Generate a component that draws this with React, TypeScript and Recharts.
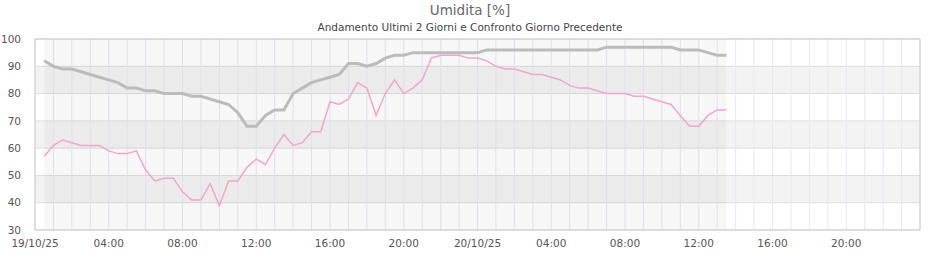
import React from "react";
import {
  LineChart,
  Line,
  XAxis,
  YAxis,
  CartesianGrid,
  ReferenceArea,
  ReferenceLine,
} from "recharts";

const TITLE = "Umidita [%]";
const SUBTITLE = "Andamento Ultimi 2 Giorni e Confronto Giorno Precedente";
const dayLabels = ["19/10/25", "20/10/25"];
const yTicks = [30, 40, 50, 60, 70, 80, 90, 100];
const hourTicks = Array.from({ length: 49 }, (_, i) => i);

// sampling: every 30 minutes starting 19/10/25 00:30
const startHour = 0.5;
const stepHours = 0.5;

// comparison (previous day) – grey thick line
const greyValues = [
  92, 90, 89, 89, 88, 87, 86, 85, 84, 82, 82, 81, 81, 80, 80, 80, 79, 79, 78, 77,
  76, 73, 68, 68, 72, 74, 74, 80, 82, 84, 85, 86, 87, 91, 91, 90, 91, 93, 94, 94,
  95, 95, 95, 95, 95, 95, 95, 95, 96, 96, 96, 96, 96, 96, 96, 96, 96, 96, 96, 96,
  96, 97, 97, 97, 97, 97, 97, 97, 97, 96, 96, 96, 95, 94, 94,
];

// humidity – pink line
const pinkValues = [
  57, 61, 63, 62, 61, 61, 61, 59, 58, 58, 59, 52, 48, 49, 49, 44, 41, 41, 47, 39,
  48, 48, 53, 56, 54, 60, 65, 61, 62, 66, 66, 77, 76, 78, 84, 82, 72, 80, 85, 80,
  82, 85, 93, 94, 94, 94, 93, 93, 92, 90, 89, 89, 88, 87, 87, 86, 85, 83, 82, 82,
  81, 80, 80, 80, 79, 79, 78, 77, 76, 72, 68, 68, 72, 74, 74,
];

const data = greyValues.map((g, i) => ({
  h: startHour + i * stepHours,
  grey: g,
  pink: pinkValues[i],
}));

const firstHour = data[0].h;
const lastHour = data[data.length - 1].h;

const pad = (n: number) => (n < 10 ? "0" + n : "" + n);
const formatTick = (h: number) => {
  if (h % 24 === 0) return dayLabels[h / 24] ?? "";
  if (h % 4 === 0) return `${pad(h % 24)}:00`;
  return "";
};

const FONT = "'DejaVu Sans', sans-serif";

export default function App() {
  return (
    <div
      style={{
        position: "absolute",
        left: 0,
        top: 0,
        width: 940,
        height: 260,
        background: "#fff",
        fontFamily: FONT,
      }}
    >
      <div
        style={{
          position: "absolute",
          left: 0,
          top: 2,
          width: 940,
          textAlign: "center",
          fontSize: 13.5,
          lineHeight: "16px",
          color: "#666",
        }}
      >
        {TITLE}
      </div>
      <div
        style={{
          position: "absolute",
          left: 0,
          top: 20,
          width: 940,
          textAlign: "center",
          fontSize: 10.5,
          lineHeight: "14px",
          color: "#444",
        }}
      >
        {SUBTITLE}
      </div>
      <div style={{ position: "absolute", left: 0, top: 0 }}>
        <LineChart
          width={940}
          height={260}
          data={data}
          margin={{ top: 39, right: 20, bottom: 0, left: 0 }}
        >
          <CartesianGrid
            horizontal={true}
            vertical={false}
            stroke="#dddddd"
            horizontalFill={["#ffffff", "#f3f3f3"]}
            fillOpacity={1}
          />
          <ReferenceArea
            x1={firstHour}
            x2={lastHour}
            y1={30}
            y2={100}
            fill="#000000"
            fillOpacity={0.03}
            stroke="none"
            ifOverflow="visible"
          />
          <CartesianGrid horizontal={false} vertical={true} stroke="#e8e6f6" />
          <XAxis
            dataKey="h"
            type="number"
            domain={[0, 48]}
            ticks={hourTicks}
            interval={0}
            tickFormatter={formatTick}
            tickLine={false}
            axisLine={{ stroke: "#cccccc" }}
            height={30}
            tick={{ fontSize: 10.5, fill: "#555", fontFamily: FONT }}
            tickMargin={4}
          />
          <YAxis
            domain={[30, 100]}
            ticks={yTicks}
            interval={0}
            tickLine={false}
            axisLine={{ stroke: "#cccccc" }}
            width={35}
            tick={{ fontSize: 10.5, fill: "#555", fontFamily: FONT }}
            tickMargin={8}
          />
          <ReferenceLine x={48} stroke="#cccccc" ifOverflow="visible" />
          <ReferenceLine y={100} stroke="#cccccc" ifOverflow="visible" />
          <Line
            type="linear"
            dataKey="grey"
            stroke="#bbbbbb"
            strokeWidth={3}
            dot={false}
            isAnimationActive={false}
          />
          <Line
            type="linear"
            dataKey="pink"
            stroke="#f4a3cb"
            strokeWidth={1.5}
            dot={false}
            isAnimationActive={false}
          />
        </LineChart>
      </div>
    </div>
  );
}
